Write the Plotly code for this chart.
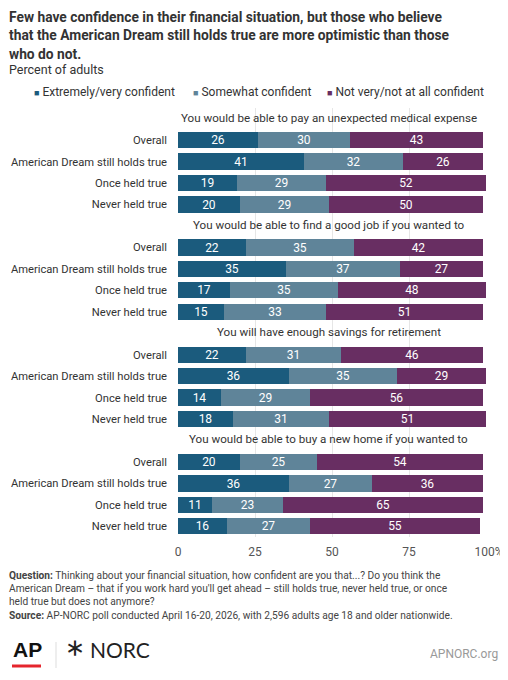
import plotly.graph_objects as go

# ---------------- data ----------------
panel_titles = [
    "You would be able to pay an unexpected medical expense",
    "You would be able to find a good job if you wanted to",
    "You will have enough savings for retirement",
    "You would be able to buy a new home if you wanted to",
]
groups = ["Overall", "American Dream still holds true", "Once held true", "Never held true"]
series_names = ["Extremely/very confident", "Somewhat confident", "Not very/not at all confident"]

extremely = [[26, 41, 19, 20], [22, 35, 17, 15], [22, 36, 14, 18], [20, 36, 11, 16]]
somewhat = [[30, 32, 29, 29], [35, 37, 35, 33], [31, 35, 29, 31], [25, 27, 23, 27]]
not_conf = [[43, 26, 52, 50], [42, 27, 48, 51], [46, 29, 56, 51], [54, 36, 65, 55]]

x_ticks = [0, 25, 50, 75, 100]
x_tick_labels = ["0", "25", "50", "75", "\u00a0\u00a0100%"]

colors = ["#1b5b7d", "#5f8499", "#682e62"]

# ---------------- layout helpers ----------------
# the page body has an 8px margin, so the figure is drawn 8px smaller
OFF = 8
W, H = 508 - OFF, 680 - OFF
ML, MR, MT, MB = 178 - OFF, 22, 108 - OFF, 143
PW, PH = W - ML - MR, H - MT - MB


def px(x):
    return (x - OFF - ML) / PW


def py(y):
    return (H - MB - (y - OFF)) / PH


SLOTS = len(groups) + 1
ypos, ylab, ptitle_y = [], [], []
for p in range(len(panel_titles)):
    ptitle_y.append(p * SLOTS)
    for r, g in enumerate(groups):
        ypos.append(p * SLOTS + r + 1)
        ylab.append(g)

fig = go.Figure()
for name, vals, col in zip(series_names, [extremely, somewhat, not_conf], colors):
    flat = [v for panel in vals for v in panel]
    fig.add_trace(go.Bar(
        x=flat, y=ypos, orientation="h", name=name,
        marker=dict(color=col, line=dict(width=0)),
        width=0.76,
        text=[str(v) for v in flat], textposition="inside",
        insidetextanchor="middle", textangle=0,
        textfont=dict(color="white", size=12, family="Roboto"),
        showlegend=False,
    ))

ann = []
# panel titles
for t, yv in zip(panel_titles, ptitle_y):
    ann.append(dict(x=49, y=yv, xref="x", yref="y", text=t, showarrow=False,
                    xanchor="center", yanchor="middle", yshift=1,
                    font=dict(size=11.6, color="#333333", family="Roboto")))

# title
title_lines = [
    "Few have confidence in their financial situation, but those who believe",
    "that the American Dream still holds true are more optimistic than those",
    "who do not.",
]
for i, line in enumerate(title_lines):
    ann.append(dict(x=px(7), y=py(17 + i * 18.3), xref="paper", yref="paper",
                    text="<b>" + line + "</b>", showarrow=False,
                    xanchor="left", yanchor="middle",
                    font=dict(size=13.8, color="#333333", family="Roboto")))
ann.append(dict(x=px(7), y=py(70), xref="paper", yref="paper", text="Percent of adults",
                showarrow=False, xanchor="left", yanchor="middle",
                font=dict(size=12.5, color="#333333", family="Roboto")))

# legend
leg_x = [32, 191, 325]
for name, col, lx in zip(series_names, colors, leg_x):
    ann.append(dict(x=px(lx), y=py(92), xref="paper", yref="paper",
                    text=f"<span style='color:{col};font-size:9px'>■</span> {name}",
                    showarrow=False, xanchor="left", yanchor="middle",
                    font=dict(size=12, color="#333333", family="Roboto")))

# footer
foot_lines = [
    "<b>Question:</b> Thinking about your financial situation, how confident are you that...? Do you think the",
    "American Dream \u2013 that if you work hard you'll get ahead \u2013 still holds true, never held true, or once",
    "held true but does not anymore?",
    "<b>Source:</b> AP-NORC poll conducted April 16-20, 2026, with 2,596 adults age 18 and older nationwide.",
]
for i, line in enumerate(foot_lines):
    ann.append(dict(x=px(7), y=py(575 + i * 13.4), xref="paper", yref="paper", text=line,
                    showarrow=False, xanchor="left", yanchor="middle",
                    font=dict(size=10.2, color="#444444", family="Roboto")))

# logos
ann.append(dict(x=px(11), y=py(649), xref="paper", yref="paper", text="<b>AP</b>",
                showarrow=False, xanchor="left", yanchor="middle",
                font=dict(size=21, color="#111111", family="Liberation Sans")))
ann.append(dict(x=px(78), y=py(648), xref="paper", yref="paper", text="\u26b9",
                showarrow=False, xanchor="center", yanchor="middle", textangle=90,
                yshift=0, font=dict(size=27, color="#222222", family="DejaVu Sans")))
ann.append(dict(x=px(88), y=py(649), xref="paper", yref="paper", text="NORC",
                showarrow=False, xanchor="left", yanchor="middle",
                font=dict(size=21, color="#222222", family="Lato")))
ann.append(dict(x=px(500), y=py(654), xref="paper", yref="paper", text="APNORC.org",
                showarrow=False, xanchor="right", yanchor="middle",
                font=dict(size=12, color="#999999", family="Roboto")))

shapes = [
    dict(type="line", xref="paper", yref="paper", x0=px(12), x1=px(41),
         y0=py(666), y1=py(666), line=dict(color="#e5252d", width=3)),
    dict(type="line", xref="paper", yref="paper", x0=px(56), x1=px(56),
         y0=py(642), y1=py(668), line=dict(color="#dddddd", width=1)),
]

fig.update_layout(
    width=W, height=H, barmode="stack",
    margin=dict(l=ML, r=MR, t=MT, b=MB, pad=0, autoexpand=False),
    paper_bgcolor="white", plot_bgcolor="white",
    font=dict(family="Roboto", color="#333333"),
    annotations=ann, shapes=shapes, showlegend=False, bargap=0,
    uniformtext=dict(minsize=10, mode="show"),
)
fig.update_xaxes(range=[0, 100], tickvals=x_ticks, ticktext=x_tick_labels,
                 showgrid=True, gridcolor="#e6e6e6", gridwidth=1, zeroline=False,
                 showline=False, ticks="", ticklabelstandoff=6, automargin=False,
                 tickfont=dict(size=12, color="#555555", family="Roboto"),
                 fixedrange=True)
fig.update_yaxes(range=[SLOTS * len(panel_titles) - 0.5, -0.5], tickvals=ypos, ticktext=ylab,
                 showgrid=False, zeroline=False, showline=False, ticks="",
                 ticklabelstandoff=10, automargin=False,
                 tickfont=dict(size=11.2, color="#333333", family="Roboto"),
                 fixedrange=True)

fig.write_html("out.html")
